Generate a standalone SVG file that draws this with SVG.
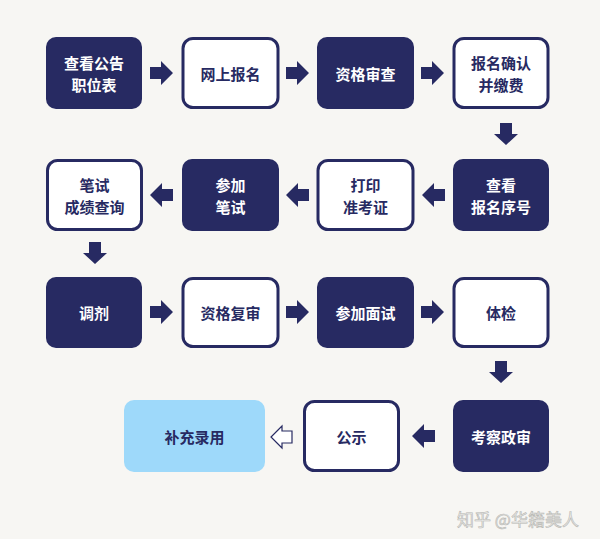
<svg xmlns="http://www.w3.org/2000/svg" width="600" height="539" viewBox="0 0 600 539">
<defs>
<style>
.dark{fill:#272a62}
.out{fill:#ffffff;stroke:#272a62;stroke-width:3}
.blue{fill:#9ed9fa}
text{font-family:"Noto Sans CJK SC","Noto Sans",sans-serif;font-weight:bold;font-size:15px;text-anchor:middle;dominant-baseline:central}
.w{fill:#ffffff}
.n{fill:#272a62}
.arr{fill:#272a62}
.wm{fill:#ebebe9;font-weight:normal;font-size:17px;text-anchor:start;stroke:#b8b8b4;stroke-width:0.6}
</style>
<path id="ra" d="M0,-6 H11 V-12 L23,0 L11,12 V6 H0 Z"/>
<path id="la" d="M0,-6 H-11 V-12 L-23,0 L-11,12 V6 H0 Z"/>
<path id="da" d="M-6,0 V11 H-12 L0,22 L12,11 H6 V0 Z"/>
</defs>
<rect width="600" height="539" fill="#f7f6f3"/>
<g id="connectors" class="arr">
<use href="#ra" x="150" y="73"/>
<use href="#ra" x="286" y="73"/>
<use href="#ra" x="421" y="73"/>
<use href="#da" x="506" y="123"/>
<use href="#la" x="445" y="195"/>
<use href="#la" x="309" y="195"/>
<use href="#la" x="173" y="195"/>
<use href="#da" x="95" y="242"/>
<use href="#ra" x="150" y="312"/>
<use href="#ra" x="286" y="312"/>
<use href="#ra" x="421" y="312"/>
<use href="#da" x="501" y="361"/>
<use href="#la" x="435" y="436"/>
<path d="M292,431 H282 V426 L271,437 L282,448 V443 H292 Z" fill="#ffffff" stroke="#272a62" stroke-width="1.2"/>
</g>
<g id="n1"><rect class="dark" x="46" y="37" width="96" height="72" rx="10"/><text class="w" x="94" y="62">查看公告</text><text class="w" x="94" y="84">职位表</text></g>
<g id="n2"><rect class="out" x="183" y="38.5" width="95" height="69" rx="10"/><text class="n" x="230.5" y="73">网上报名</text></g>
<g id="n3"><rect class="dark" x="317" y="37" width="97" height="72" rx="10"/><text class="w" x="365.5" y="73">资格审查</text></g>
<g id="n4"><rect class="out" x="454" y="38.5" width="94" height="69" rx="10"/><text class="n" x="501" y="62">报名确认</text><text class="n" x="501" y="84">并缴费</text></g>
<g id="n5"><rect class="dark" x="453" y="159" width="96" height="72" rx="10"/><text class="w" x="501" y="184">查看</text><text class="w" x="501" y="206">报名序号</text></g>
<g id="n6"><rect class="out" x="318" y="160.5" width="95" height="69" rx="10"/><text class="n" x="365.5" y="184">打印</text><text class="n" x="365.5" y="206">准考证</text></g>
<g id="n7"><rect class="dark" x="182" y="159" width="97" height="72" rx="10"/><text class="w" x="230.5" y="184">参加</text><text class="w" x="230.5" y="206">笔试</text></g>
<g id="n8"><rect class="out" x="47.5" y="160.5" width="94" height="69" rx="10"/><text class="n" x="94.5" y="184">笔试</text><text class="n" x="94.5" y="206">成绩查询</text></g>
<g id="n9"><rect class="dark" x="46" y="277" width="96" height="71" rx="10"/><text class="w" x="94" y="312">调剂</text></g>
<g id="n10"><rect class="out" x="183" y="278.5" width="95" height="68" rx="10"/><text class="n" x="230.5" y="312">资格复审</text></g>
<g id="n11"><rect class="dark" x="317" y="277" width="97" height="71" rx="10"/><text class="w" x="365.5" y="312">参加面试</text></g>
<g id="n12"><rect class="out" x="454" y="278.5" width="94" height="68" rx="10"/><text class="n" x="501" y="312">体检</text></g>
<g id="n13"><rect class="dark" x="453" y="400" width="96" height="72" rx="10"/><text class="w" x="501" y="436">考察政审</text></g>
<g id="n14"><rect class="out" x="304.5" y="401.5" width="94" height="69" rx="10"/><text class="n" x="351.5" y="436">公示</text></g>
<g id="n15"><rect class="blue" x="124" y="400" width="141" height="72" rx="10"/><text class="n" x="194.5" y="436">补充录用</text></g>
<text class="wm" x="457" y="518">知乎 @华籍美人</text>
</svg>
